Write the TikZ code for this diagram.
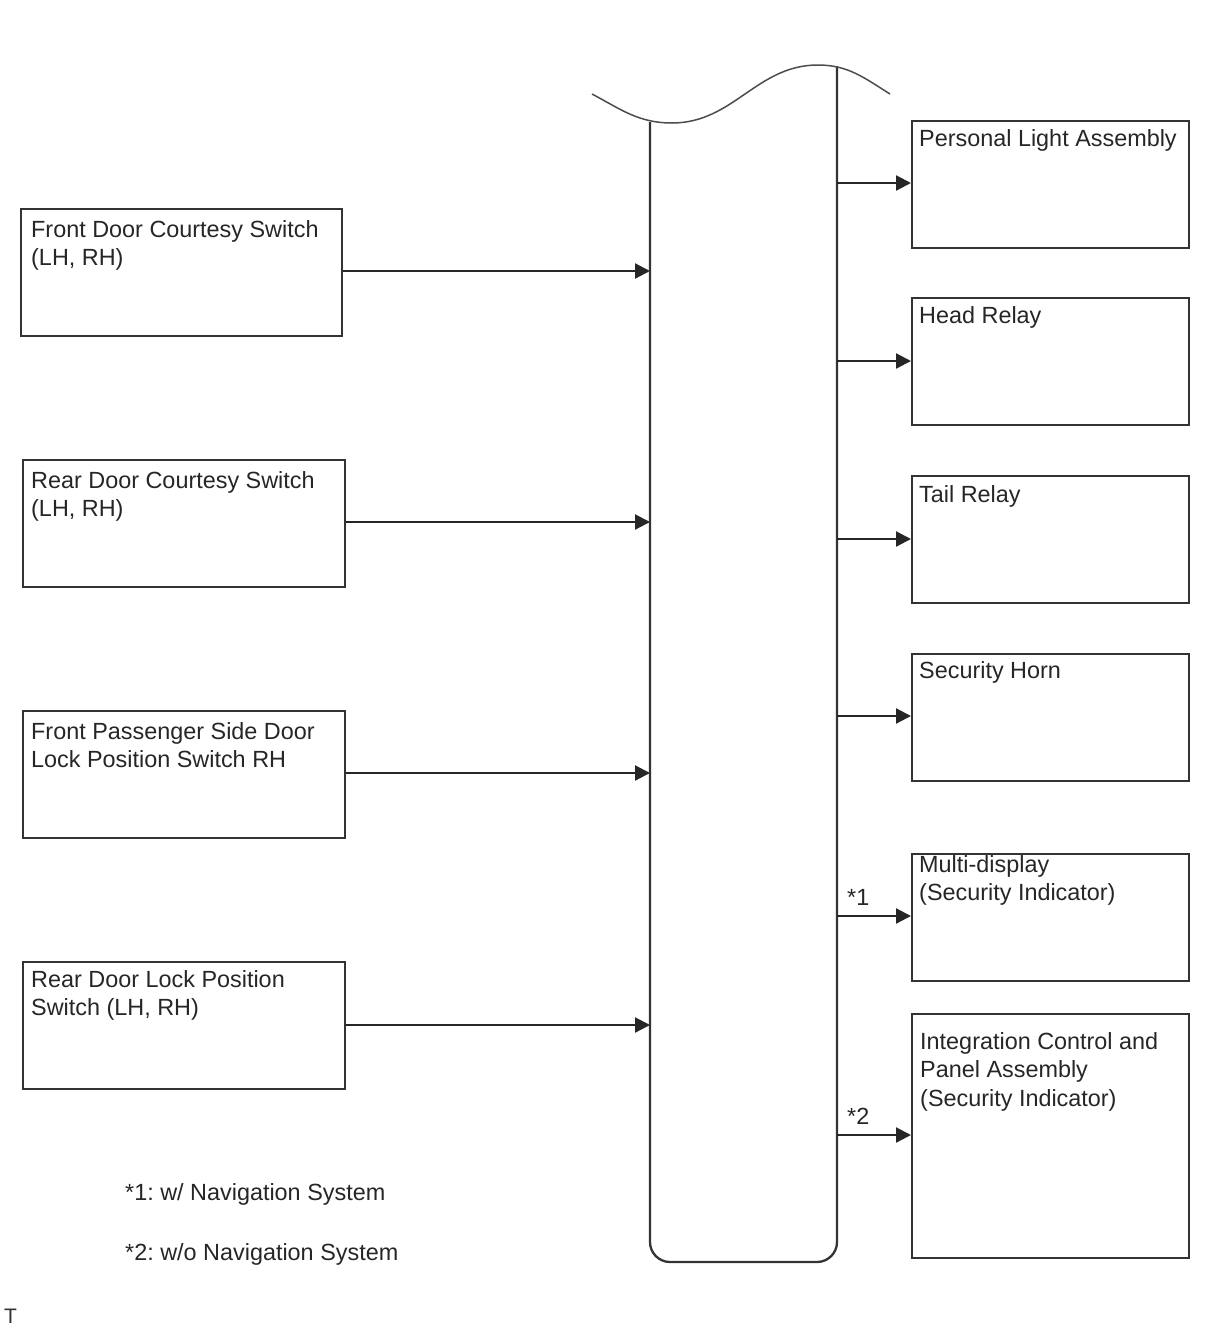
\documentclass[tikz,border=0pt]{standalone}
\usepackage{fontspec}
\setmainfont{Liberation Sans}
\usetikzlibrary{arrows.meta}
\frenchspacing
\begin{document}
\begin{tikzpicture}[x=1pt,y=-1pt,
  box/.style={draw=black!80,line width=2.3pt,rectangle,inner sep=0pt,anchor=north west},
  txt/.style={anchor=north west,inner sep=0pt,align=left,font=\fontsize{23.4}{28.5}\selectfont,text=black!85},
  conn/.style={draw=black!85,line width=2.2pt,-{Triangle[length=15pt,width=15pt]}},
  note/.style={anchor=base west,inner sep=0pt,font=\fontsize{23.4}{28.5}\selectfont,text=black!85}]
\useasboundingbox (0,0) rectangle (1210,1328);

% bus
\draw[draw=black!80,line width=2.3pt,rounded corners=20pt] (650,122) -- (650,1262) -- (837,1262) -- (837,66);
\draw[draw=black!70,line width=1.5pt] (592,94) to[out=-28,in=180] (672,123) to[out=0,in=180] (818,65) to[out=0,in=148] (890,94);

% left boxes
\node[box,minimum width=321pt,minimum height=127pt] (l1) at (20,208) {};
\node[box,minimum width=322pt,minimum height=127pt] (l2) at (22,459) {};
\node[box,minimum width=322pt,minimum height=127pt] (l3) at (22,710) {};
\node[box,minimum width=322pt,minimum height=127pt] (l4) at (22,961) {};
\node[txt] (t1) at (31,220) {Front Door Courtesy Switch\\(LH, RH)};
\node[txt] (t2) at (31,471) {Rear Door Courtesy Switch\\(LH, RH)};
\node[txt] (t3) at (31,722) {Front Passenger Side Door\\Lock Position Switch RH};
\node[txt] (t4) at (31,970) {Rear Door Lock Position\\Switch (LH, RH)};

% right boxes
\node[box,minimum width=277pt,minimum height=127pt] (r1) at (911,120) {};
\node[box,minimum width=277pt,minimum height=127pt] (r2) at (911,297) {};
\node[box,minimum width=277pt,minimum height=127pt] (r3) at (911,475) {};
\node[box,minimum width=277pt,minimum height=127pt] (r4) at (911,653) {};
\node[box,minimum width=277pt,minimum height=127pt] (r5) at (911,853) {};
\node[box,minimum width=277pt,minimum height=244pt] (r6) at (911,1013) {};
\node[txt] (u1) at (919,129) {Personal Light Assembly};
\node[txt] (u2) at (919,306) {Head Relay};
\node[txt] (u3) at (919,485) {Tail Relay};
\node[txt] (u4) at (919,661) {Security Horn};
\node[txt] (u5) at (919,855) {Multi-display\\(Security Indicator)};
\node[txt] (u6) at (920,1032) {Integration Control and\\Panel Assembly\\(Security Indicator)};

% bus coordinates
\coordinate (b1) at (650,271);
\coordinate (b2) at (650,522);
\coordinate (b3) at (650,773);
\coordinate (b4) at (650,1025);
\coordinate (c1) at (837,183);
\coordinate (c2) at (837,361);
\coordinate (c3) at (837,539);
\coordinate (c4) at (837,716);
\coordinate (c5) at (837,916);
\coordinate (c6) at (837,1135);

\draw[conn] (l1.east |- b1) -- (b1);
\draw[conn] (l2.east |- b2) -- (b2);
\draw[conn] (l3.east |- b3) -- (b3);
\draw[conn] (l4.east |- b4) -- (b4);
\draw[conn] (c1) -- (r1.west |- c1);
\draw[conn] (c2) -- (r2.west |- c2);
\draw[conn] (c3) -- (r3.west |- c3);
\draw[conn] (c4) -- (r4.west |- c4);
\draw[conn] (c5) -- (r5.west |- c5);
\draw[conn] (c6) -- (r6.west |- c6);

\node[note] (s1) at (847,905) {*1};
\node[note] (s2) at (847,1124) {*2};
\node[note] (n1) at (125,1200) {*1: w/ Navigation System};
\node[note] (n2) at (125,1260) {*2: w/o Navigation System};
\node[anchor=base west,inner sep=0pt,font=\fontsize{21}{22}\selectfont,text=black!80] (tt) at (4,1323) {T};
\end{tikzpicture}
\end{document}
